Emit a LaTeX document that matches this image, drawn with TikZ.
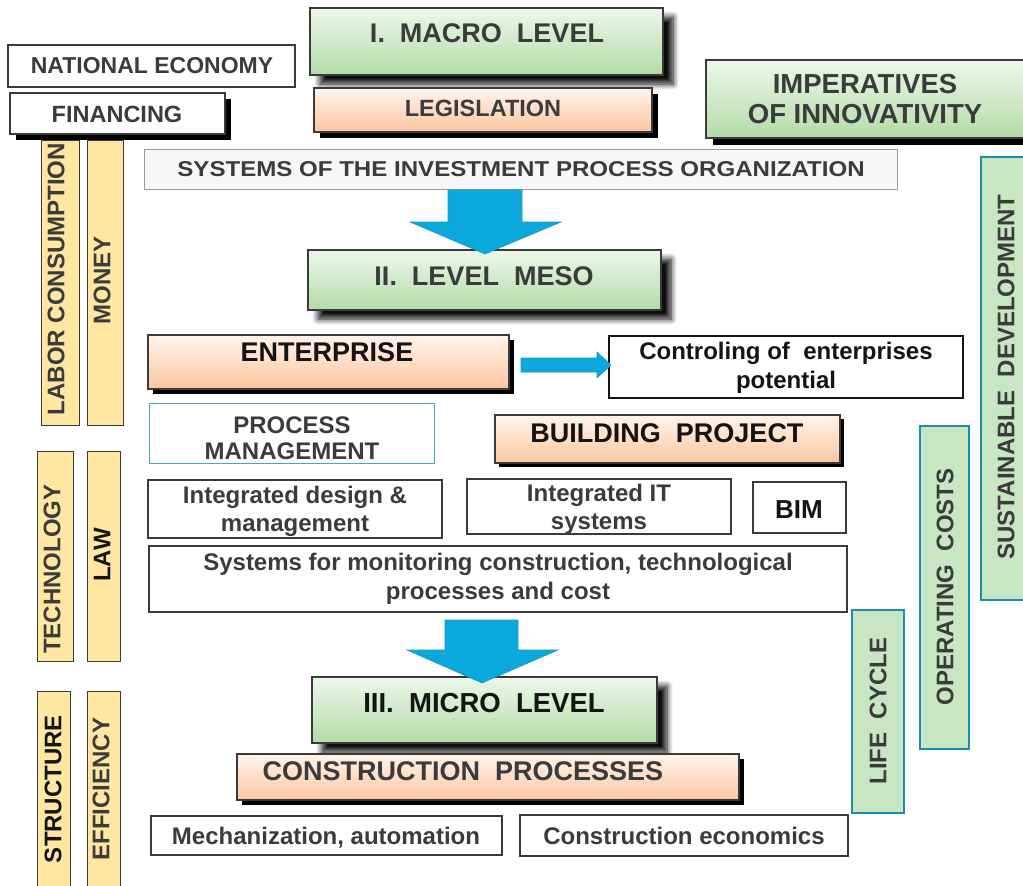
\documentclass[tikz,border=0pt]{standalone}
\usepackage{fontspec}
\setmainfont{Liberation Sans}
\newfontfamily\widesans{Liberation Sans}[FakeStretch=1.12]
\usetikzlibrary{shadows,shadows.blur,fit}

\definecolor{grnT}{HTML}{EDF7EA}
\definecolor{grnB}{HTML}{B3DBA8}
\definecolor{salT}{HTML}{FFF4EC}
\definecolor{salB}{HTML}{FBC6A0}
\definecolor{barY}{HTML}{FFE7A2}
\definecolor{barG}{HTML}{C7E6C1}
\definecolor{barEdge}{HTML}{1A8DB4}
\definecolor{pmEdge}{HTML}{45A6CA}
\definecolor{arrowBlue}{HTML}{0BA9DB}
\definecolor{arrowEdge}{HTML}{1C93C2}
\definecolor{txtGray}{HTML}{3B3B3B}
\definecolor{txtDark}{HTML}{141414}
\definecolor{edgeGray}{HTML}{3A3A3A}

\tikzset{
  bx/.style={inner sep=0pt, line width=1.1pt, draw=edgeGray},
  plain/.style={bx, fill=white},
  grn/.style={bx, top color=grnT, bottom color=grnB},
  sal/.style={bx, top color=salT, bottom color=salB},
  lvlshadow/.style={blur shadow={shadow xshift=10pt, shadow yshift=-9pt,
      shadow blur radius=6pt, shadow blur steps=8, shadow opacity=95}},
  hard/.style={drop shadow={shadow xshift=#1, shadow yshift=-#1, fill=black, opacity=1}},
  ybar/.style={bx, fill=barY, line width=1pt},
  gbar/.style={inner sep=0pt, draw=barEdge, line width=2pt, fill=barG},
  txt/.style={inner sep=0pt, text=txtGray, align=center,
      font=\fontsize{#1}{#1}\selectfont\bfseries},
  txtk/.style={txt=#1, text=txtDark},
  vtxt/.style={txt=24, rotate=90},
  blockarrow/.style={fill=arrowBlue, draw=arrowEdge, line width=0.6pt},
}

\begin{document}
\begin{tikzpicture}[x=1pt,y=-1pt]
\useasboundingbox (0,0) rectangle (1023,886);

% ---------- factor bars on the left ----------
\node[ybar, fit={(41,140) (79,425)}] (labor) {};
\node[ybar, fit={(87,140) (123,425)}] (money) {};
\node[ybar, fit={(37,451) (73,661)}] (tech) {};
\node[ybar, fit={(87,451) (120,661)}] (law) {};
\node[ybar, fit={(37,691) (70,892)}] (struct) {};
\node[ybar, fit={(87,691) (120,892)}] (effic) {};
\node[vtxt] (laborT) at (56,279) {LABOR CONSUMPTION};
\node[vtxt] (moneyT) at (102,280) {MONEY};
\node[vtxt] (techT) at (52,569) {TECHNOLOGY};
\node[vtxt, text=txtDark] (lawT) at (102,555) {LAW};
\node[vtxt, text=txtDark] (structT) at (53,789) {STRUCTURE};
\node[vtxt] (efficT) at (101,789) {EFFICIENCY};

% ---------- bars on the right ----------
\node[gbar, fit={(981,157) (1032,600)}] (sust) {};
\node[gbar, fit={(920,426) (969,749)}] (oper) {};
\node[gbar, fit={(852,610) (904,813)}] (life) {};
\node[vtxt] (sustT) at (1006,377) {SUSTAINABLE~~DEVELOPMENT};
\node[vtxt] (operT) at (945,587) {OPERATING~~COSTS};
\node[vtxt] (lifeT) at (878,711) {LIFE~~CYCLE};

% ---------- macro level ----------
\node[plain, fit={(8,45) (295,87)}] (natecon) {};
\node[txt=23] (natT) at (152,66) {NATIONAL ECONOMY};
\node[plain, hard=6pt, fit={(10,93) (225,134)}] (fin) {};
\node[txt=23.5] (finT) at (117,114) {FINANCING};

\node[grn, lvlshadow, fit={(310,8) (663,75)}] (macro) {};
\node[txt=27] (macroT) at (487,33) {I.~~MACRO~~LEVEL};
\node[sal, hard=6pt, fit={(314,88) (652,132)}] (legis) {};
\node[txt=23.5] (legisT) at (483,108) {LEGISLATION};

\node[grn, hard=7pt, fit={(706,60) (1040,138)}] (imper) {};
\node[txt=27.5, font=\fontsize{27.5}{30}\selectfont\bfseries] (imperT) at (865,99) {IMPERATIVES\\OF INNOVATIVITY};

\node[bx, draw=gray!80, fill=black!3, line width=1pt, fit={(144,149) (897,189)}] (sys) {};
\node[txt=21.5, font=\widesans\fontsize{21.5}{26}\selectfont\bfseries] (sysT) at (521,169)
  {SYSTEMS OF THE INVESTMENT PROCESS ORGANIZATION};

% ---------- meso level ----------
\node[grn, lvlshadow, fit={(308,250) (661,310)}] (meso) {};
\node[txt=27] (mesoT) at (484,276) {II.~~LEVEL~~MESO};
\fill[blockarrow] (448,190) -- (522,190) -- (522,222) -- (561,222) -- (485,254)
  -- (410,222) -- (448,222) -- cycle;

\node[sal, hard=4.5pt, fit={(148,335) (509,389)}] (ent) {};
\node[txtk=27] (entT) at (327,352) {ENTERPRISE};
\node[plain, draw=txtDark, fit={(609,336) (963,398)}] (ctrl) {};
\node[txtk=24, font=\fontsize{24}{29}\selectfont\bfseries] (ctrlT) at (786,367.5)
  {Controling of~~enterprises\\potential};
\fill[blockarrow] (521,358) -- (597,358) -- (597,352) -- (611,365) -- (597,378)
  -- (597,372) -- (521,372) -- cycle;

\node[plain, draw=pmEdge, line width=0.9pt, fit={(149,403) (434,463)}] (proc) {};
\node[txt=24, font=\fontsize{24}{26}\selectfont\bfseries] (procT) at (292,438) {PROCESS\\MANAGEMENT};
\node[sal, hard=4pt, fit={(495,415) (840,463)}] (build) {};
\node[txtk=27] (buildT) at (667,433) {BUILDING~~PROJECT};

\node[plain, fit={(148,480) (442,538)}] (intdes) {};
\node[txt=24, font=\fontsize{24}{28}\selectfont\bfseries] (intdesT) at (295,511) {Integrated design \&\\management};
\node[plain, fit={(467,479) (731,534)}] (intit) {};
\node[txt=24, font=\fontsize{24}{28}\selectfont\bfseries] (intitT) at (599,509) {Integrated IT\\systems};
\node[plain, fit={(753,482) (846,533)}] (bim) {};
\node[txtk=26] (bimT) at (799,510) {BIM};
\node[plain, fit={(149,546) (847,612)}] (mon) {};
\node[txt=24, font=\fontsize{24}{29}\selectfont\bfseries] (monT) at (498,579)
  {Systems for monitoring construction, technological\\processes and cost};

% ---------- micro level ----------
\node[grn, lvlshadow, fit={(312,677) (657,743)}] (micro) {};
\node[txtk=27.5] (microT) at (484,703) {III.~~MICRO~~LEVEL};
\fill[blockarrow] (445,620) -- (518,620) -- (518,650) -- (558,650) -- (482,683)
  -- (407,650) -- (445,650) -- cycle;

\node[sal, hard=4.5pt, fit={(237,754) (739,800)}] (constr) {};
\node[txt=27] (constrT) at (463,771) {CONSTRUCTION~~PROCESSES};
\node[plain, fit={(151,816) (502,855)}] (mech) {};
\node[txt=24] (mechT) at (326,838) {Mechanization, automation};
\node[plain, fit={(520,815) (848,856)}] (econ) {};
\node[txt=24] (econT) at (684,836) {Construction economics};
\end{tikzpicture}
\end{document}
